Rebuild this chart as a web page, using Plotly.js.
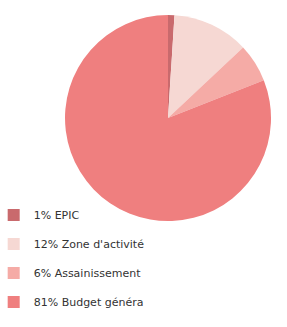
<!DOCTYPE html>
<html><head><meta charset="utf-8">
<script src="https://cdn.plot.ly/plotly-3.0.1.min.js"></script>
<style>html,body{margin:0;padding:0;background:#fff;}#c{width:287px;height:327px;}</style>
</head><body><div id="c"></div>
<script>
const labels = ["1% EPIC", "12% Zone d'activité", "6% Assainissement", "81% Budget généra"];
const values = [1, 12, 6, 81];
const colors = ["#c96a6d", "#f6d8d3", "#f5aba6", "#ef7f7f"];

const trace = {
  type: 'pie',
  labels: labels.map(l => '<span style="font-size:11px">' + l + '</span><br> '),
  values: values,
  sort: false,
  direction: 'clockwise',
  rotation: 0,
  textinfo: 'none',
  hoverinfo: 'label',
  marker: {colors: colors, line: {width: 0}},
  domain: {x: [0.2265, 0.9443], y: [0.324, 0.954]},
  automargin: false
};
const layout = {
  width: 287, height: 327,
  margin: {l: 0, r: 0, t: 0, b: 0, autoexpand: false},
  paper_bgcolor: '#fff',
  showlegend: true,
  legend: {x: -0.022, y: 0.382, xanchor: 'left', yanchor: 'top', valign: 'top',
    font: {family: 'DejaVu Sans', size: 10, color: '#333'}, bgcolor: 'rgba(0,0,0,0)'},
};
Plotly.newPlot('c', [trace], layout, {displayModeBar: false, staticPlot: true});
</script></body></html>
